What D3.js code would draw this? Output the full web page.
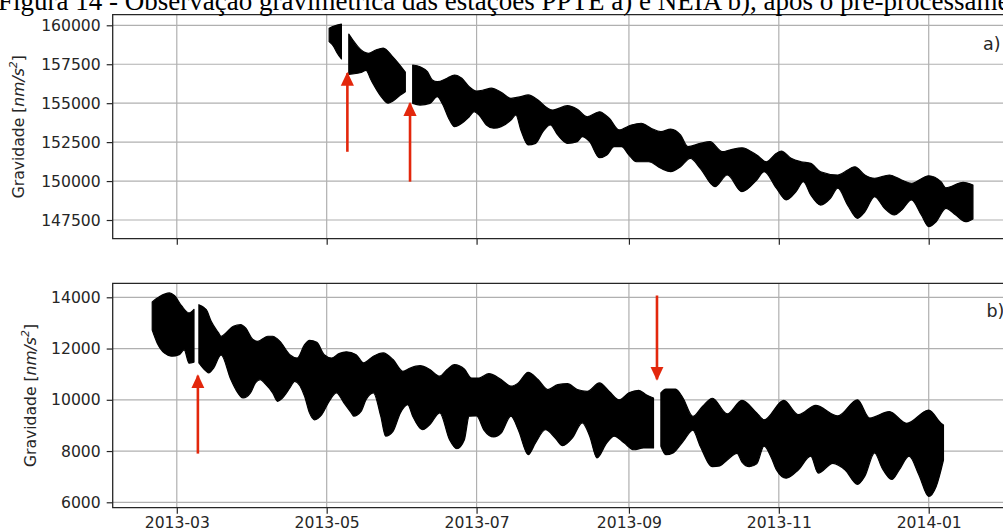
<!DOCTYPE html>
<html>
<head>
<meta charset="utf-8">
<script src="https://cdn.jsdelivr.net/npm/d3@7"></script>
<style>
  html, body { margin: 0; padding: 0; background: #fff; overflow: hidden; }
  svg { display: block; }
</style>
</head>
<body>
<svg id="chart" width="1003" height="532"></svg>
<script>
// ---- Gravity envelopes (upper / lower limits of the hourly record), nm/s^2 ----
// PPTE station, panel a) — three continuous segments
const ppteUpper1 = [["2013-05-02",159810],["2013-05-04",159950],["2013-05-07",160080]];
const ppteLower1 = [["2013-05-02",158950],["2013-05-04",158600],["2013-05-05",158290],["2013-05-07",157840]];

const ppteUpper2 = [["2013-05-10",159440],["2013-05-16",158300],["2013-05-18",158200],["2013-05-21",158410],
  ["2013-05-24",158540],["2013-05-28",157960],["2013-06-02",157000]];
const ppteLower2 = [["2013-05-10",156850],["2013-05-15",156970],["2013-05-17",157100],["2013-05-19",156500],
  ["2013-05-23",155460],["2013-05-26",155000],["2013-05-28",155140],["2013-05-31",155520],["2013-06-02",155740]];

const ppteUpper3 = [["2013-06-05",157450],["2013-06-08",157340],["2013-06-11",157020],["2013-06-13",156490],
  ["2013-06-15",156380],["2013-06-19",156600],["2013-06-22",156810],["2013-06-25",156600],["2013-06-28",156060],
  ["2013-07-01",155780],["2013-07-04",155850],["2013-07-07",155960],["2013-07-11",155700],["2013-07-15",155310],
  ["2013-07-19",155420],["2013-07-22",155530],["2013-07-26",155200],["2013-07-30",154670],["2013-08-01",154560],
  ["2013-08-07",154840],["2013-08-11",154610],["2013-08-15",154130],["2013-08-20",154450],["2013-08-24",154030],
  ["2013-08-28",153280],["2013-09-02",153600],["2013-09-06",153710],["2013-09-10",153390],["2013-09-14",153170],
  ["2013-09-18",153340],["2013-09-22",152960],["2013-09-25",152210],["2013-09-30",152420],["2013-10-04",152530],
  ["2013-10-09",151890],["2013-10-12",151990],["2013-10-17",152140],["2013-10-23",151670],["2013-10-27",151240],
  ["2013-10-31",151780],["2013-11-02",151930],["2013-11-06",151460],["2013-11-10",151240],["2013-11-14",151140],
  ["2013-11-18",150600],["2013-11-25",150390],["2013-12-02",150920],["2013-12-06",150390],["2013-12-10",150180],
  ["2013-12-16",150390],["2013-12-21",150070],["2013-12-25",149860],["2014-01-01",150340],["2014-01-06",149960],
  ["2014-01-08",149570],["2014-01-15",149920],["2014-01-19",149750]];
const ppteLower3 = [["2013-06-05",154990],["2013-06-08",154880],["2013-06-12",154990],["2013-06-15",155420],
  ["2013-06-17",154990],["2013-06-20",153920],["2013-06-22",153490],["2013-06-25",153710],["2013-06-28",154130],
  ["2013-06-30",154450],["2013-07-02",154240],["2013-07-05",153600],["2013-07-08",153390],["2013-07-11",153490],
  ["2013-07-15",153920],["2013-07-17",154240],["2013-07-19",153280],["2013-07-22",152320],["2013-07-25",152420],
  ["2013-07-28",153170],["2013-07-31",153600],["2013-08-03",152960],["2013-08-07",152420],["2013-08-11",152530],
  ["2013-08-13",152850],["2013-08-16",152530],["2013-08-20",151500],["2013-08-23",151670],["2013-08-26",152210],
  ["2013-08-29",152210],["2013-09-01",151670],["2013-09-04",151240],["2013-09-09",151240],["2013-09-14",150820],
  ["2013-09-18",150600],["2013-09-22",150920],["2013-09-26",151460],["2013-09-30",150820],["2013-10-06",149640],
  ["2013-10-11",150390],["2013-10-17",149320],["2013-10-23",150070],["2013-10-26",150600],["2013-10-31",149540],
  ["2013-11-04",148790],["2013-11-08",149320],["2013-11-11",149960],["2013-11-14",149110],["2013-11-18",148460],
  ["2013-11-22",148890],["2013-11-25",149540],["2013-11-29",148460],["2013-12-03",147610],["2013-12-06",148030],
  ["2013-12-10",149000],["2013-12-14",148250],["2013-12-18",147820],["2013-12-21",148140],["2013-12-25",148790],
  ["2013-12-29",147820],["2014-01-01",147070],["2014-01-04",147390],["2014-01-08",148250],["2014-01-12",147820],
  ["2014-01-16",147390],["2014-01-19",147570]];

// NEIA station, panel b) — three continuous segments
const neiaUpper1 = [["2013-02-19",13820],["2013-02-22",14030],["2013-02-26",14170],["2013-02-28",14070],
  ["2013-03-03",13660],["2013-03-06",13390],["2013-03-08",13530]];
const neiaLower1 = [["2013-02-19",12720],["2013-02-21",12220],["2013-02-24",11820],["2013-02-27",11700],
  ["2013-03-02",11760],["2013-03-04",11950],["2013-03-06",11430],["2013-03-08",11470]];

const neiaUpper2 = [["2013-03-10",13710],["2013-03-13",13520],["2013-03-15",13060],["2013-03-18",12610],
  ["2013-03-19",12480],["2013-03-21",12610],["2013-03-24",12870],["2013-03-27",12930],["2013-03-29",12800],
  ["2013-04-01",12350],["2013-04-03",12280],["2013-04-07",12480],["2013-04-09",12480],["2013-04-12",12280],
  ["2013-04-16",11760],["2013-04-19",11630],["2013-04-22",12150],["2013-04-24",12320],["2013-04-27",12240],
  ["2013-04-30",11760],["2013-05-03",11630],["2013-05-06",11800],["2013-05-09",11870],["2013-05-13",11760],
  ["2013-05-16",11440],["2013-05-20",11700],["2013-05-24",11830],["2013-05-28",11570],["2013-06-01",11110],
  ["2013-06-04",11240],["2013-06-08",11330],["2013-06-12",11180],["2013-06-16",10920],["2013-06-19",11180],
  ["2013-06-22",11370],["2013-06-26",11200],["2013-06-29",10850],["2013-07-02",10850],["2013-07-06",11020],
  ["2013-07-11",10790],["2013-07-15",10530],["2013-07-18",10660],["2013-07-22",11070],["2013-07-26",10790],
  ["2013-07-30",10400],["2013-08-03",10590],["2013-08-07",10630],["2013-08-11",10400],["2013-08-15",10330],
  ["2013-08-20",10660],["2013-08-24",10330],["2013-08-28",10000],["2013-09-01",10270],["2013-09-05",10370],
  ["2013-09-08",10200],["2013-09-11",10070]];
const neiaLower2 = [["2013-03-10",11440],["2013-03-13",11110],["2013-03-14",11050],["2013-03-16",11240],
  ["2013-03-19",11750],["2013-03-23",10790],["2013-03-25",10400],["2013-03-28",10070],["2013-03-31",10270],
  ["2013-04-02",10660],["2013-04-04",10790],["2013-04-06",10620],["2013-04-09",10270],["2013-04-11",9940],
  ["2013-04-13",10070],["2013-04-16",10460],["2013-04-18",10720],["2013-04-22",10140],["2013-04-24",9490],
  ["2013-04-26",9220],["2013-04-29",9420],["2013-05-02",9940],["2013-05-05",10270],["2013-05-08",9880],
  ["2013-05-11",9490],["2013-05-12",9360],["2013-05-15",9550],["2013-05-17",10000],["2013-05-20",10270],
  ["2013-05-23",9360],["2013-05-25",8580],["2013-05-28",8770],["2013-05-31",9490],["2013-06-03",9810],
  ["2013-06-05",9360],["2013-06-09",8830],["2013-06-12",9030],["2013-06-16",9490],["2013-06-20",8440],
  ["2013-06-23",8090],["2013-06-26",8430],["2013-06-28",9360],["2013-07-01",9370],["2013-07-04",8820],
  ["2013-07-08",8550],["2013-07-11",8700],["2013-07-15",9360],["2013-07-18",8820],["2013-07-22",7860],
  ["2013-07-25",8320],["2013-07-29",8830],["2013-08-02",8510],["2013-08-05",8210],["2013-08-09",8510],
  ["2013-08-13",9100],["2013-08-16",8590],["2013-08-19",7730],["2013-08-23",8320],["2013-08-26",8580],
  ["2013-08-30",8320],["2013-09-03",8050],["2013-09-07",8120],["2013-09-11",8120]];

const neiaUpper3 = [["2013-09-14",10270],["2013-09-16",10420],["2013-09-20",10420],["2013-09-23",10070],
  ["2013-09-27",9350],["2013-10-01",9750],["2013-10-05",10060],["2013-10-11",9450],["2013-10-17",9980],
  ["2013-10-23",9490],["2013-10-26",9220],["2013-11-03",9980],["2013-11-09",9420],["2013-11-16",9780],
  ["2013-11-25",9370],["2013-12-03",10000],["2013-12-08",9290],["2013-12-16",9540],["2013-12-23",9080],
  ["2014-01-01",9600],["2014-01-06",9090],["2014-01-07",9020]];
const neiaLower3 = [["2013-09-14",8190],["2013-09-16",7860],["2013-09-19",7930],["2013-09-23",8370],
  ["2013-09-27",8820],["2013-09-30",8190],["2013-10-05",7390],["2013-10-08",7420],["2013-10-11",7650],
  ["2013-10-15",7910],["2013-10-17",7570],["2013-10-20",7390],["2013-10-23",7500],["2013-10-26",8190],
  ["2013-10-29",7730],["2013-10-31",7270],["2013-11-04",6940],["2013-11-09",7270],["2013-11-14",7800],
  ["2013-11-17",7140],["2013-11-23",7520],["2013-11-28",7260],["2013-12-03",6700],["2013-12-06",7020],
  ["2013-12-10",7930],["2013-12-13",7340],["2013-12-17",6890],["2013-12-20",7260],["2013-12-24",7800],
  ["2013-12-28",7070],["2014-01-01",6230],["2014-01-04",6610],["2014-01-07",7650]];

// ---- Axis ticks ----
const ppteTicks = [147500, 150000, 152500, 155000, 157500, 160000];
const neiaTicks = [6000, 8000, 10000, 12000, 14000];
const dateTicks = ["2013-03", "2013-05", "2013-07", "2013-09", "2013-11", "2014-01"];

// ---- Arrows marking the corrected steps: [date, tail value, head value] ----
const ppteArrows = [["2013-05-09T10:00", 151880, 156920], ["2013-06-03T22:00", 149960, 154990]];
const neiaArrows = [["2013-03-09T14:00", 7900, 10940], ["2013-09-12T10:00", 14070, 10800]];

// ---------------------------------------------------------------------------
const parseDay = d3.utcParse("%Y-%m-%d");
const parseHour = d3.utcParse("%Y-%m-%dT%H:%M");
const parseMonth = d3.utcParse("%Y-%m");
const toDate = s => parseDay(s) || parseHour(s);

const svg = d3.select("#chart");
const axisFont = "'DejaVu Sans', sans-serif";
const ink = "#262626";
const arrowRed = "#e3270c";

const x = d3.scaleUtc()
  .domain([parseHour("2013-02-02T22:00"), parseHour("2014-02-04T17:00")])
  .range([112.7, 1014]);

const panels = [
  { top: 14.7, bottom: 238.7, domain: [146300, 160680], ticks: ppteTicks, tag: "a)", tagX: 983, tagY: 50,
    labelX: 19, showDates: false, arrows: ppteArrows,
    segments: [[ppteUpper1, ppteLower1], [ppteUpper2, ppteLower2], [ppteUpper3, ppteLower3]] },
  { top: 283.3, bottom: 507.7, domain: [5789, 14546], ticks: neiaTicks, tag: "b)", tagX: 986.5, tagY: 316.5,
    labelX: 31, showDates: true, arrows: neiaArrows,
    segments: [[neiaUpper1, neiaLower1], [neiaUpper2, neiaLower2], [neiaUpper3, neiaLower3]] }
];

// Arrowhead marker
const defs = svg.append("defs");
defs.append("marker")
  .attr("id", "head").attr("viewBox", "0 0 10 10")
  .attr("refX", 9).attr("refY", 5)
  .attr("markerUnits", "userSpaceOnUse")
  .attr("markerWidth", 14).attr("markerHeight", 14)
  .attr("orient", "auto")
  .append("path").attr("d", "M0,0.3 L10,5 L0,9.7 Z").attr("fill", arrowRed);

panels.forEach(p => {
  const y = d3.scaleLinear().domain(p.domain).range([p.bottom, p.top]);
  const g = svg.append("g");

  // clip to the axes area
  const clipId = "clip" + p.tag[0];
  defs.append("clipPath").attr("id", clipId)
    .append("rect").attr("x", x.range()[0]).attr("y", p.top)
    .attr("width", x.range()[1] - x.range()[0]).attr("height", p.bottom - p.top);

  // grid
  const monthTicks = dateTicks.map(parseMonth);
  g.append("g").selectAll("line").data(monthTicks).join("line")
    .attr("x1", d => x(d)).attr("x2", d => x(d))
    .attr("y1", p.top).attr("y2", p.bottom)
    .attr("stroke", "#b0b0b0").attr("stroke-width", 1.2);
  g.append("g").selectAll("line").data(p.ticks).join("line")
    .attr("x1", x.range()[0]).attr("x2", x.range()[1])
    .attr("y1", d => y(d)).attr("y2", d => y(d))
    .attr("stroke", "#b0b0b0").attr("stroke-width", 1.2);

  // gravity record drawn as the band between its envelopes
  const line = d3.line().x(d => x(toDate(d[0]))).y(d => y(d[1])).curve(d3.curveMonotoneX);
  const band = g.append("g").attr("clip-path", `url(#${clipId})`);
  p.segments.forEach(([upper, lower]) => {
    const up = line(upper);
    const low = line(lower.slice().reverse());
    band.append("path")
      .attr("d", up + "L" + low.slice(1) + "Z")
      .attr("fill", "#000").attr("stroke", "#000").attr("stroke-width", 1.2)
      .attr("stroke-linejoin", "round");
  });

  // axes
  const yAxis = d3.axisLeft(y).tickValues(p.ticks).tickSize(6).tickPadding(6).tickFormat(d3.format("d"));
  const ya = g.append("g").attr("transform", `translate(${x.range()[0]},0)`).call(yAxis);
  const xAxis = d3.axisBottom(x).tickValues(monthTicks).tickSize(6).tickPadding(3)
    .tickFormat(p.showDates ? d3.utcFormat("%Y-%m") : () => "");
  const xa = g.append("g").attr("transform", `translate(0,${p.bottom})`).call(xAxis);
  [ya, xa].forEach(a => {
    a.select(".domain").remove();
    a.selectAll(".tick line").attr("stroke", ink).attr("stroke-width", 1.2);
    a.selectAll(".tick text").attr("fill", ink).attr("font-family", axisFont).attr("font-size", 15.6);
  });

  // spines (left, top, bottom)
  g.append("path")
    .attr("d", `M${x.range()[1]},${p.top}H${x.range()[0]}V${p.bottom}H${x.range()[1]}`)
    .attr("fill", "none").attr("stroke", ink).attr("stroke-width", 1.3);

  // y label
  const lab = g.append("text")
    .attr("transform", `translate(${p.labelX},${(p.top + p.bottom) / 2}) rotate(-90)`)
    .attr("text-anchor", "middle").attr("dominant-baseline", "central")
    .attr("font-family", axisFont).attr("font-size", 15.6).attr("fill", ink);
  lab.append("tspan").text("Gravidade [");
  lab.append("tspan").attr("font-style", "italic").text("nm/s");
  lab.append("tspan").attr("font-style", "italic").attr("font-size", 11).attr("dy", -6).text("2");
  lab.append("tspan").attr("dy", 6).text("]");

  // panel tag
  g.append("text").attr("x", p.tagX).attr("y", p.tagY)
    .attr("font-family", axisFont).attr("font-size", 17.5).attr("fill", ink).text(p.tag);

  // arrows
  g.append("g").selectAll("line").data(p.arrows).join("line")
    .attr("x1", d => x(toDate(d[0]))).attr("x2", d => x(toDate(d[0])))
    .attr("y1", d => y(d[1])).attr("y2", d => y(d[2]))
    .attr("stroke", arrowRed).attr("stroke-width", 2.6)
    .attr("marker-end", "url(#head)");
});

// figure caption (runs past the top and right edges of the page)
svg.append("text")
  .attr("x", -2).attr("y", 10)
  .attr("font-family", "'Liberation Serif', 'Times New Roman', serif")
  .attr("font-size", 27).attr("fill", "#000")
  .text("Figura 14 - Observação gravimétrica das estações PPTE a) e NEIA b), após o pré-processamento");
</script>
</body>
</html>
